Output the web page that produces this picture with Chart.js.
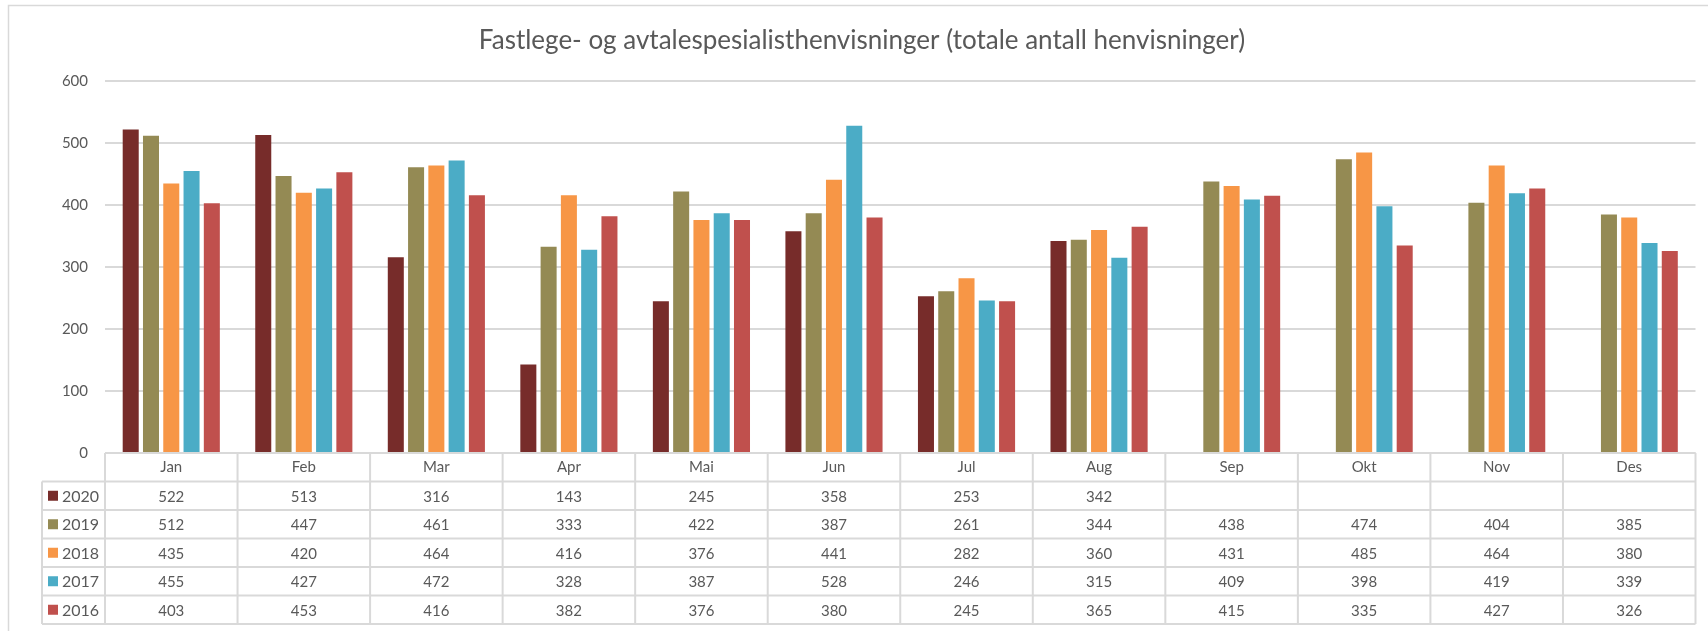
<!DOCTYPE html>
<html>
<head>
<meta charset="utf-8">
<script src="https://cdn.jsdelivr.net/npm/chart.js@4/dist/chart.umd.min.js"></script>
<style>
  body { margin: 0; background: #fff; }
  #wrap { width: 1708px; height: 631px; position: relative; }
</style>
</head>
<body>
<div id="wrap"><canvas id="henvChart"></canvas></div>
<script>
// data
const months = ['Jan', 'Feb', 'Mar', 'Apr', 'Mai', 'Jun', 'Jul', 'Aug', 'Sep', 'Okt', 'Nov', 'Des'];
const years = ['2020', '2019', '2018', '2017', '2016'];
const v2020 = [522, 513, 316, 143, 245, 358, 253, 342, null, null, null, null];
const v2019 = [512, 447, 461, 333, 422, 387, 261, 344, 438, 474, 404, 385];
const v2018 = [435, 420, 464, 416, 376, 441, 282, 360, 431, 485, 464, 380];
const v2017 = [455, 427, 472, 328, 387, 528, 246, 315, 409, 398, 419, 339];
const v2016 = [403, 453, 416, 382, 376, 380, 245, 365, 415, 335, 427, 326];
const yTicks = [0, 100, 200, 300, 400, 500, 600];

const series = [v2020, v2019, v2018, v2017, v2016];
const colors = ['#772C2A', '#948A54', '#F79646', '#4BACC6', '#C0504D'];
const textColor = '#595959';
const lineColor = '#D9D9D9';
const fontFam = 'Lato, "Open Sans", sans-serif';

// data table under the plot + outer frame
const tablePlugin = {
  id: 'dataTable',
  beforeDraw(chart) {
    const ctx = chart.ctx;
    ctx.save();
    ctx.strokeStyle = lineColor;
    ctx.lineWidth = 1.5;
    ctx.beginPath();
    ctx.moveTo(8.5, 631);
    ctx.lineTo(8.5, 5.5);
    ctx.lineTo(1708, 5.5);
    ctx.stroke();
    ctx.restore();
  },
  afterDraw(chart) {
    const ctx = chart.ctx;
    const x = chart.scales.x;
    const area = chart.chartArea;
    const colW = (x.right - x.left) / months.length;
    const top = area.bottom;
    const rowH = 28.5;
    const legLeft = 42;
    const bottom = top + rowH * (years.length + 1);

    ctx.save();
    ctx.strokeStyle = lineColor;
    ctx.lineWidth = 2;
    ctx.beginPath();
    // header top line
    ctx.moveTo(x.left, top);
    ctx.lineTo(x.right, top);
    for (let r = 1; r <= years.length + 1; r++) {
      ctx.moveTo(legLeft, top + r * rowH);
      ctx.lineTo(x.right, top + r * rowH);
    }
    for (let c = 0; c <= months.length; c++) {
      const xx = x.left + c * colW;
      ctx.moveTo(xx, top);
      ctx.lineTo(xx, bottom);
    }
    ctx.moveTo(legLeft, top + rowH);
    ctx.lineTo(legLeft, bottom);
    ctx.stroke();

    ctx.font = '15px ' + fontFam;
    ctx.textBaseline = 'middle';
    years.forEach((yr, r) => {
      const cy = top + (r + 1.5) * rowH;
      ctx.fillStyle = colors[r];
      ctx.fillRect(48, cy - 5, 10, 10);
      ctx.fillStyle = textColor;
      ctx.textAlign = 'left';
      ctx.font = '16px ' + fontFam;
      ctx.fillText(yr, 62, cy + 1);
      ctx.font = '15px ' + fontFam;
      ctx.textAlign = 'center';
      series[r].forEach((v, i) => {
        if (v === null) return;
        ctx.fillText(String(v), x.getPixelForValue(i), cy + 1);
      });
    });
    ctx.restore();
  }
};

new Chart(document.getElementById('henvChart'), {
  type: 'bar',
  data: {
    labels: months,
    datasets: years.map((yr, i) => ({
      label: yr,
      data: series[i],
      backgroundColor: colors[i],
      borderWidth: 0,
      categoryPercentage: 0.765,
      barPercentage: 0.79
    }))
  },
  options: {
    responsive: true,
    maintainAspectRatio: false,
    animation: false,
    layout: { padding: { left: 28.5, right: 12.5, top: 0, bottom: 0 } },
    plugins: {
      legend: { display: false },
      tooltip: { enabled: false },
      title: {
        display: true,
        text: 'Fastlege- og avtalespesialisthenvisninger (totale antall henvisninger)',
        color: textColor,
        font: { family: fontFam, size: 26, weight: 'normal', lineHeight: 1.2 },
        padding: { top: 25, bottom: 25 }
      }
    },
    scales: {
      x: {
        grid: { display: false, drawTicks: false },
        border: { display: false },
        ticks: { color: textColor, font: { family: fontFam, size: 15 }, padding: 5 },
        afterFit(scale) { scale.height = 178; }
      },
      y: {
        min: 0,
        max: 600,
        afterBuildTicks(scale) { scale.ticks = yTicks.map(v => ({ value: v })); },
        grid: { color: lineColor, lineWidth: 2, drawTicks: false },
        border: { display: false },
        ticks: { color: textColor, font: { family: fontFam, size: 15 }, padding: 17 },
        afterFit(scale) { scale.width = 76.5; }
      }
    }
  },
  plugins: [tablePlugin]
});
</script>
</body>
</html>
